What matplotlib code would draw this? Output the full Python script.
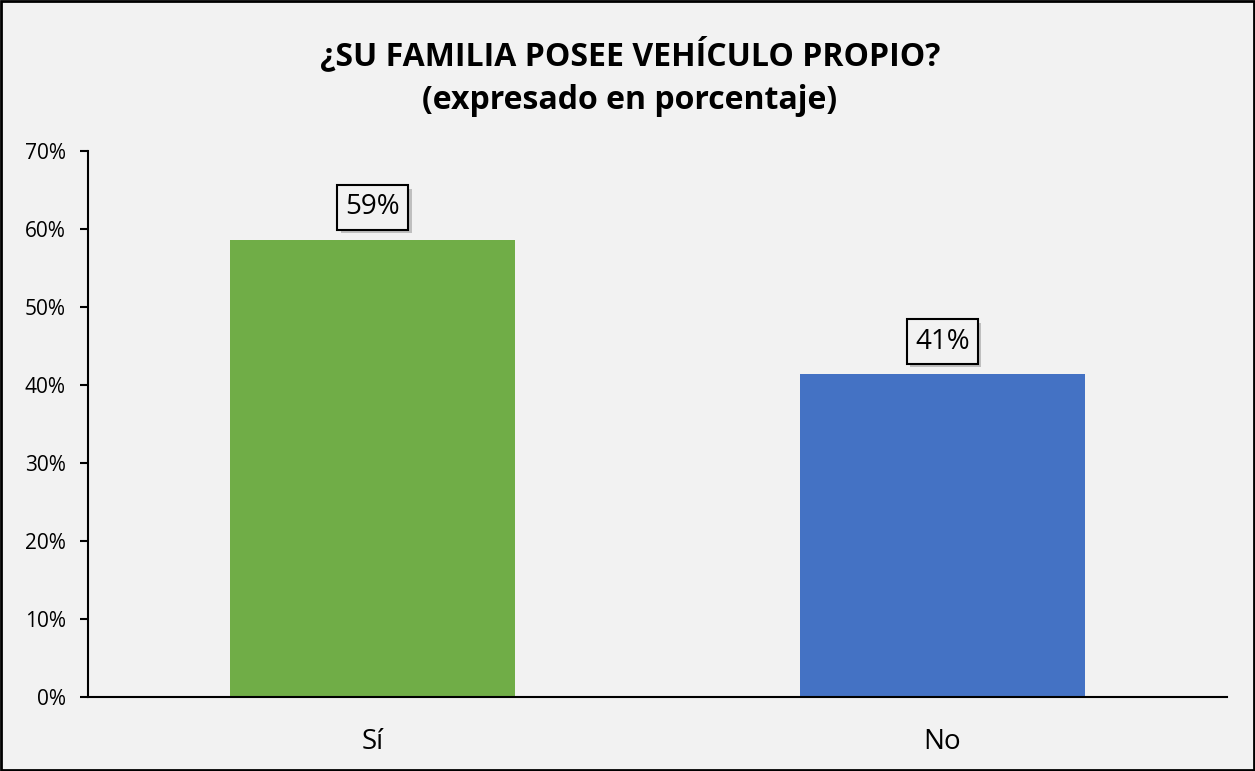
import matplotlib.pyplot as plt
import matplotlib.patheffects as pe
from matplotlib.ticker import PercentFormatter

categorias = ["Sí", "No"]
valores = [58.6, 41.4]
etiquetas = ["59%", "41%"]
colores = ["#70AD47", "#4472C4"]

plt.rcParams['font.family'] = ['Open Sans', 'DejaVu Sans']

fig = plt.figure(figsize=(12.55, 7.71), dpi=100, facecolor="#F2F2F2")
fig.patches.append(plt.Rectangle((0.001, 0.001), 0.998, 0.998, transform=fig.transFigure,
                                 fill=False, edgecolor="black", linewidth=2))
ax = fig.add_axes([0.0701, 0.096, 0.9076, 0.708])
ax.set_facecolor("#F2F2F2")

x = range(len(categorias))
ax.bar(x, valores, width=0.5, color=colores)

for i, v in enumerate(valores):
    t = ax.annotate(etiquetas[i], (i, v), xytext=(0, 23.5), textcoords="offset points",
                    ha="center", va="center", fontsize=20,
                    bbox=dict(boxstyle="square,pad=0.3", fc="#F2F2F2", ec="black", lw=1.5))
    t.get_bbox_patch().set_path_effects([pe.SimplePatchShadow(offset=(2.5, -2.5), alpha=0.3), pe.Normal()])

ax.set_xlim(-0.5, 1.5)
ax.set_ylim(0, 70)
ax.set_yticks(range(0, 71, 10))
ax.yaxis.set_major_formatter(PercentFormatter(decimals=0))
ax.set_xticks(list(x))
ax.set_xticklabels(categorias, fontsize=20)
ax.tick_params(axis="x", length=0, pad=22)
ax.tick_params(axis="y", labelsize=15, length=6, width=1.5, pad=10)
for s in ["top", "right"]:
    ax.spines[s].set_visible(False)
ax.spines["left"].set_linewidth(1.5)
ax.spines["bottom"].set_linewidth(1.5)

fig.text(0.502, 0.928, "¿SU FAMILIA POSEE VEHÍCULO PROPIO?", ha="center", va="center",
         fontsize=23, fontweight="bold")
fig.text(0.502, 0.870, "(expresado en porcentaje)", ha="center", va="center",
         fontsize=23, fontweight="bold")

fig.savefig("out.png", dpi=100, facecolor=fig.get_facecolor())
